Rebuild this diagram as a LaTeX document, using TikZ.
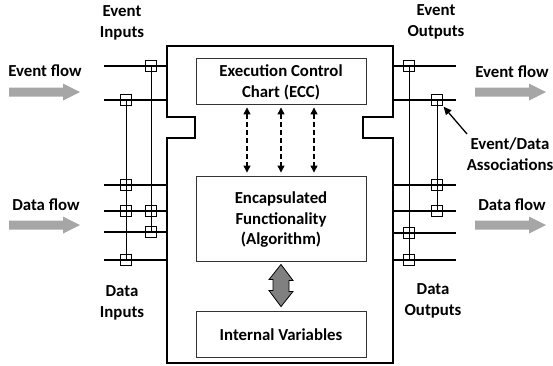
\documentclass[tikz,border=0pt]{standalone}
\usepackage{fontspec}
\setmainfont{Carlito}[BoldFont={Carlito Bold}]
\usetikzlibrary{arrows.meta}
\begin{document}
\begin{tikzpicture}[x=1pt,y=-1pt,
  lbl/.style={font=\fontsize{16.8}{20.5}\selectfont\bfseries, align=center, inner sep=0pt},
  inbox/.style={draw=black!80, line width=0.9pt, inner sep=0pt, minimum width=170pt},
  joint/.style={draw, line width=0.8pt, minimum size=11pt, inner sep=0pt},
  wire/.style={line width=1.5pt},
  link/.style={line width=0.9pt},
  flow/.style={fill=black!35, draw=none},
  ctrl/.style={line width=1.3pt, dash pattern=on 5pt off 3pt,
    {Triangle[length=7pt,width=7pt]}-{Triangle[length=7pt,width=7pt]},
    shorten <=3pt, shorten >=3pt}
]
\useasboundingbox (0,0) rectangle (553,365);

% function block outline: head, neck and body
\draw[line width=1.8pt, line join=miter]
  (167,46) -- (393,46) -- (393,117) -- (363,117) -- (363,138) -- (393,138)
  -- (393,363) -- (167,363) -- (167,138) -- (195,138) -- (195,117)
  -- (167,117) -- cycle;

% inner boxes
\node[inbox, minimum height=46pt] (ecc) at (281,81) {};
\node[lbl] at (281,82.5) {Execution Control\\Chart (ECC)};
\node[inbox, minimum height=85pt] (alg) at (281,218.5) {};
\node[lbl] at (281,220) {Encapsulated\\Functionality\\(Algorithm)};
\node[inbox, minimum height=46pt] (iv) at (281,334) {};
\node[lbl] at (281,335) {Internal Variables};

% ECC <-> algorithm control links
\foreach \dx in {-34,0,33}
  \draw[ctrl] ([xshift=\dx pt]ecc.south) -- ([xshift=\dx pt]alg.north);

% algorithm <-> internal variables: thick two-headed arrow
\coordinate (dtop) at ([yshift=-3pt]alg.south);
\coordinate (dbot) at ([yshift=4pt]iv.north);
\draw[fill=black!50, line width=0.8pt, line join=miter]
  (dtop) -- ++(12,16) -- ++(-4,0) -- ++(0,11) -- ++(4,0) -- (dbot)
  -- ++(-12,-16) -- ++(4,0) -- ++(0,-11) -- ++(-4,0) -- cycle;

% left side interface wires
\foreach \n/\y in {ei1/66, ei2/100, di1/185, di2/211, di3/232, di4/260} {
  \coordinate (\n a) at (104,\y);
  \coordinate (\n b) at (167,\y);
  \draw[wire] (\n a) -- (\n b);
}
% right side interface wires
\foreach \n/\y in {eo1/66, eo2/100, do1/185, do2/211, do3/233, do4/260} {
  \coordinate (\n a) at (393,\y);
  \coordinate (\n b) at (456,\y);
  \draw[wire] (\n a) -- (\n b);
}

% event/data association joints (left)
\node[joint] (la1) at (151,66) {};
\node[joint] (la2) at (126,100) {};
\node[joint] (la3) at (126,185) {};
\node[joint] (la4) at (126,211) {};
\node[joint] (la5) at (151,211) {};
\node[joint] (la6) at (151,232) {};
\node[joint] (la7) at (126,260) {};
\draw[link] (la1.center) -- (la6.center);
\draw[link] (la2.center) -- (la7.center);

% event/data association joints (right)
\node[joint] (ra1) at (409,66) {};
\node[joint] (ra2) at (437,100) {};
\node[joint] (ra3) at (437,185) {};
\node[joint] (ra4) at (437,211) {};
\node[joint] (ra5) at (409,233) {};
\node[joint] (ra6) at (409,260) {};
\draw[link] (ra1.center) -- (ra6.center);
\draw[link] (ra2.center) -- (ra4.center);

% labels
\node[lbl] (evin) at (122,23) {Event\\Inputs};
\node[lbl] (evout) at (436,22) {Event\\Outputs};
\node[lbl] (dain) at (122,303) {Data\\Inputs};
\node[lbl] (daout) at (433,301) {Data\\Outputs};
\node[lbl] (assoc) at (510,154) {Event/Data\\Associations};
\coordinate (assocTail) at (467,134);
\draw[line width=1.3pt, -{Triangle[length=8pt,width=7pt]}, shorten >=1pt]
  (assocTail) -- (ra2.south east);

% broad grey flow arrows
\foreach \n/\x/\y in {efl/9/92, dfl/9/225, efr/475/92, dfr/475/225} {
  \coordinate (\n) at (\x,\y);
  \fill[flow] (\n) ++(0,-4.5) -- ++(54,0) -- ++(0,-4) -- ++(17,8.5)
    -- ++(-17,8.5) -- ++(0,-4) -- ++(-54,0) -- cycle;
}
\node[lbl] at (45,71) {Event flow};
\node[lbl] at (46,205) {Data flow};
\node[lbl] at (512,72) {Event flow};
\node[lbl] at (512,205) {Data flow};
\end{tikzpicture}
\end{document}
